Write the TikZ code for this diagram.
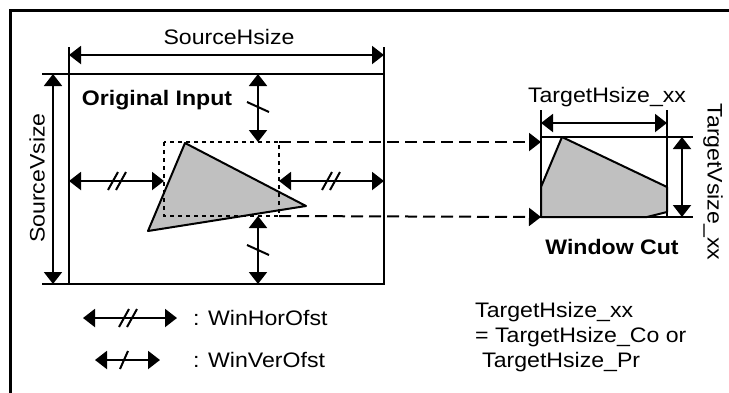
\documentclass[tikz,border=0pt]{standalone}
\usepackage{fontspec}
\setmainfont{Liberation Sans}[FakeStretch=1.1]
\usetikzlibrary{arrows.meta}
\definecolor{ShadeGray}{HTML}{C0C0C0}
\tikzset{
  outline/.style={line width=2pt,draw=black},
  dimarrow/.style={line width=2pt,{Triangle[length=12pt,width=18pt]}-{Triangle[length=12pt,width=18pt]}},
  cutarrow/.style={line width=2pt,dash pattern=on 12pt off 6pt,-{Triangle[length=12pt,width=18pt]}},
  winrect/.style={line width=2pt,dash pattern=on 4pt off 4pt},
  imgpoly/.style={line width=2pt,fill=ShadeGray,line join=round},
  tickmark/.style={line width=2pt},
  lbl/.style={font=\fontsize{21}{25}\selectfont,inner sep=0pt},
  boldlbl/.style={font=\fontsize{21}{25}\selectfont\bfseries,inner sep=0pt},
}
\begin{document}
\begin{tikzpicture}[x=1pt,y=-1pt]
  \useasboundingbox (0,0) rectangle (729,392);
  \clip (0,0) rectangle (729,392);
  % frame
  \draw[line width=3pt] (10,10) rectangle (760,420);
  % source picture
  \coordinate (sNW) at (69,74);
  \coordinate (sNE) at (384,74);
  \coordinate (sSW) at (69,284);
  \coordinate (sSE) at (384,284);
  \draw[outline] (42,74) -- (sNE) -- (sSE) -- (42,284);
  \draw[outline] (69,47) -- (sSW);
  \draw[outline] (384,47) -- (sNE);
  \coordinate (hL) at (69,55);
  \coordinate (hR) at (384,55);
  \draw[dimarrow] (hL) -- (hR);
  \coordinate (vT) at (53,74);
  \coordinate (vB) at (53,284);
  \draw[dimarrow] (vT) -- (vB);
  \node[lbl] (srcH) at (229,37) {SourceHsize};
  \node[lbl,rotate=90] (srcV) at (37,178) {SourceVsize};
  \node[boldlbl] (orig) at (157,100) {Original Input};
  % input image and window
  \draw[imgpoly] (185,143) -- (148,231) -- (306,206) -- cycle;
  \coordinate (wNW) at (164,142);
  \coordinate (wSE) at (279,216);
  \coordinate (wNE) at (279,142);
  \draw[winrect] (wNW) rectangle (wSE);
  % offsets
  \coordinate (oL) at (69,181);
  \coordinate (oLw) at (164,181);
  \coordinate (oR) at (384,181);
  \coordinate (oRw) at (279,181);
  \coordinate (oT) at (258,74);
  \coordinate (oTw) at (258,142);
  \coordinate (oB) at (258,284);
  \coordinate (oBw) at (258,216);
  \draw[dimarrow] (oL) -- (oLw);
  \draw[dimarrow] (oRw) -- (oR);
  \draw[dimarrow] (oT) -- (oTw);
  \draw[dimarrow] (oBw) -- (oB);
  \foreach \cx in {117,331}{
    \draw[tickmark] (\cx-9,190) -- (\cx+1,172);
    \draw[tickmark] (\cx-1,190) -- (\cx+9,172);
  }
  \foreach \cy in {107,250}{
    \draw[tickmark] (247,\cy-5) -- (269,\cy+5);
  }
  % target
  \coordinate (tNW) at (541,137);
  \coordinate (tNE) at (667,137);
  \coordinate (tSW) at (541,217);
  \coordinate (tSE) at (667,217);
  \draw[cutarrow] (wNE) -- (541,142);
  \draw[cutarrow] (wSE) -- (tSW);
  \draw[imgpoly] (tSW) -- (541,187) -- (562,137) -- (667,187) -- (667,212) -- (647,217) -- cycle;
  \draw[outline] (541,110) -- (tSW) -- (693,217);
  \draw[outline] (667,110) -- (tSE);
  \draw[outline] (tNW) -- (693,137);
  \coordinate (thL) at (541,123);
  \coordinate (thR) at (667,123);
  \draw[dimarrow] (thL) -- (thR);
  \coordinate (tvT) at (682,137);
  \coordinate (tvB) at (682,217);
  \draw[dimarrow] (tvT) -- (tvB);
  \node[lbl] (tgtH) at (607,97) {TargetHsize\_xx};
  \node[lbl,rotate=-90] (tgtV) at (713,182) {TargetVsize\_xx};
  \node[boldlbl] (cut) at (612,247) {Window Cut};
  % legend
  \coordinate (gHl) at (83,318);
  \coordinate (gHr) at (177,318);
  \draw[dimarrow] (gHl) -- (gHr);
  \draw[tickmark] (119,327) -- (129,309);
  \draw[tickmark] (127,327) -- (137,309);
  \coordinate (gVl) at (95,360);
  \coordinate (gVr) at (160,360);
  \draw[dimarrow] (gVl) -- (gVr);
  \draw[tickmark] (120,369) -- (128,351);
  \node[lbl,anchor=west] (hor) at (193,318) {: WinHorOfst};
  \node[lbl,anchor=west] (ver) at (193,360) {: WinVerOfst};
  \node[lbl,anchor=west] (note1) at (475,312) {TargetHsize\_xx};
  \node[lbl,anchor=west] (note2) at (475,337) {= TargetHsize\_Co or};
  \node[lbl,anchor=west] (note3) at (482,362) {TargetHsize\_Pr};
\end{tikzpicture}
\end{document}
